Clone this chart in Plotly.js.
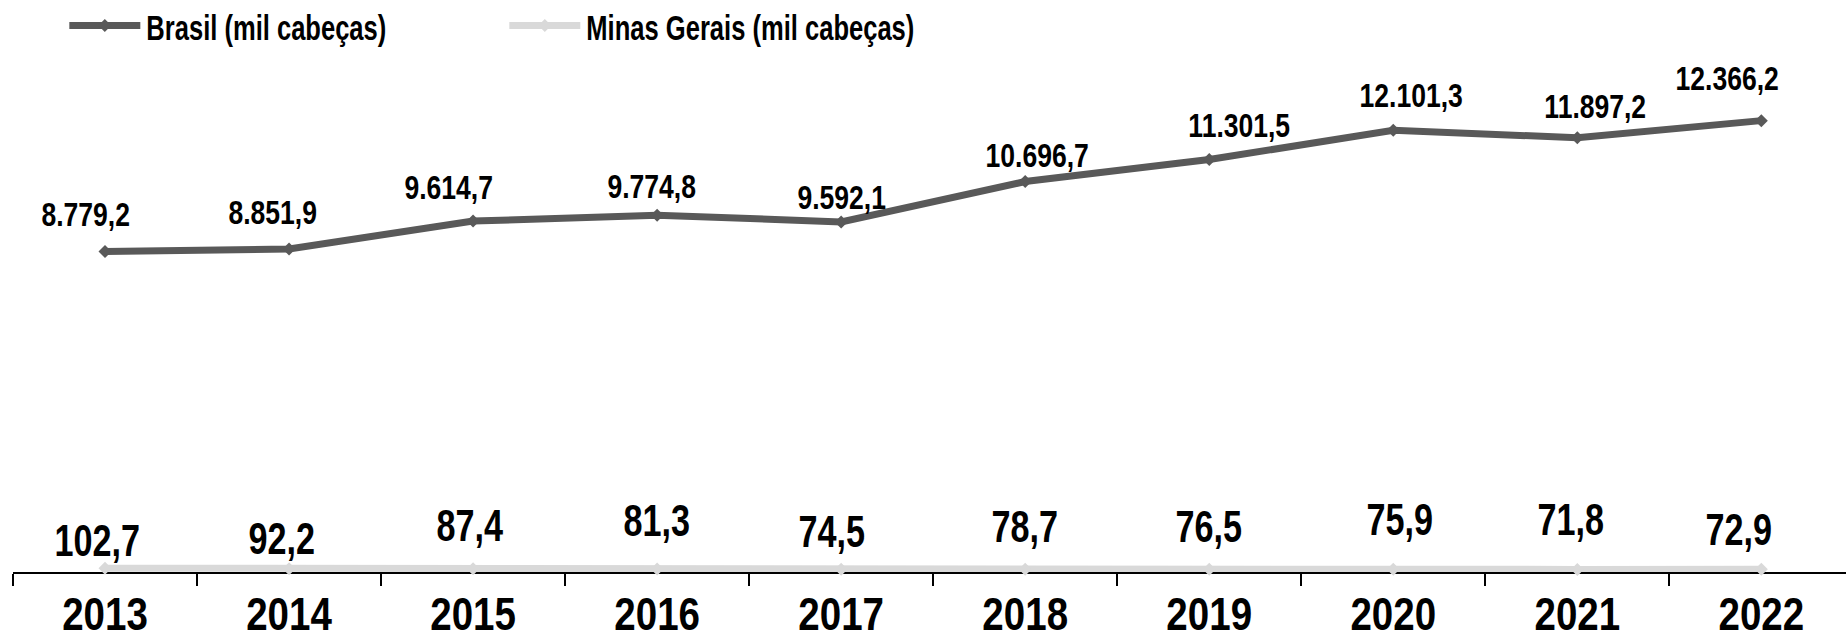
<!DOCTYPE html>
<html>
<head>
<meta charset="utf-8">
<script src="https://cdn.plot.ly/plotly-3.0.1.min.js"></script>
<style>html,body{margin:0;padding:0;background:#fff;}#chart{width:1846px;height:644px;}</style>
</head>
<body>
<div id="chart"></div>
<script>
// ---- data ----
const years = ['2013','2014','2015','2016','2017','2018','2019','2020','2021','2022'];
const brasil = [8779.2, 8851.9, 9614.7, 9774.8, 9592.1, 10696.7, 11301.5, 12101.3, 11897.2, 12366.2];
const minas = [102.7, 92.2, 87.4, 81.3, 74.5, 78.7, 76.5, 75.9, 71.8, 72.9];
const seriesNames = ['Brasil (mil cabeças)', 'Minas Gerais (mil cabeças)'];

// ---- label placement (pixel offsets, style only) ----
const brasilLabelDx = [-20, -17, -25, -6, 0, 12, 30, 18, 18, -34];
const brasilLabelGap = [26, 25, 22, 17, 13, 15, 23, 24, 20, 31];
const minasLabelDx = [-8, -7, -3, 0, -9, 0, 0, 7, -6, -22];
const minasLabelGap = [12, 14, 27, 33, 22, 27, 27, 34, 34, 24];

const FONT = '"Liberation Sans", Arial, sans-serif';
const BR_FS = 34, MG_FS = 45, YEAR_FS = 47, LEG_FS = 36;
// horizontal squeeze factors to emulate a narrow (condensed) bold face
const SQ_BR = 0.78, SQ_MG = 0.76, SQ_YEAR = 0.82, SQ_LEG = 0.71;
const LEGEND_LIFT = 7; // px

const fmt = v => v.toLocaleString('pt-BR', {minimumFractionDigits: 1, maximumFractionDigits: 1});

const traces = [
  {
    x: years, y: brasil, name: seriesNames[0], type: 'scatter', mode: 'lines+markers',
    line: {color: '#595959', width: 7},
    marker: {color: '#595959', size: 10, symbol: 'diamond'},
    cliponaxis: false
  },
  {
    x: years, y: minas, name: seriesNames[1], type: 'scatter', mode: 'lines+markers',
    line: {color: '#d9d9d9', width: 7},
    marker: {color: '#d9d9d9', size: 10, symbol: 'diamond'},
    cliponaxis: false
  }
];

function labels(ys, dx, gap, fs) {
  // x given as category index (position of the year in `years`)
  return ys.map((v, i) => ({
    x: i, y: v, xref: 'x', yref: 'y', text: fmt(v), showarrow: false,
    xanchor: 'center', yanchor: 'bottom',
    xshift: dx[i], yshift: gap[i] - 2 - 0.212 * fs,
    font: {family: FONT, size: fs, color: '#000', weight: 'bold'}
  }));
}

const layout = {
  width: 1846, height: 644,
  margin: {l: 13, r: 0, t: 61, b: 72, autoexpand: false},
  paper_bgcolor: '#fff', plot_bgcolor: '#fff',
  separators: ',.',
  showlegend: true,
  legend: {
    orientation: 'h', xref: 'paper', x: 0.028, yref: 'container', y: 0.996,
    xanchor: 'left', yanchor: 'top',
    font: {family: FONT, size: LEG_FS, color: '#000', weight: 'bold'},
    entrywidth: 395, entrywidthmode: 'pixels', itemwidth: 30
  },
  annotations: labels(brasil, brasilLabelDx, brasilLabelGap, BR_FS)
    .concat(labels(minas, minasLabelDx, minasLabelGap, MG_FS)),
  xaxis: {
    type: 'category', categoryorder: 'array', categoryarray: years,
    range: [-0.5, 9.46],
    showline: true, linecolor: '#000', linewidth: 2,
    ticks: 'outside', tickson: 'boundaries', ticklen: 12, tickwidth: 2, tickcolor: '#000',
    tickfont: {family: FONT, size: YEAR_FS, color: '#000', weight: 'bold'},
    ticklabelstandoff: 0,
    showgrid: false, zeroline: false, layer: 'below traces',
    fixedrange: true, automargin: false
  },
  yaxis: {
    range: [0, 14000], visible: false, showgrid: false, zeroline: false, fixedrange: true
  }
};

function squeeze(el, s) {
  const x = parseFloat(el.getAttribute('x')) || 0;
  const tr = el.getAttribute('transform') || '';
  el.setAttribute('transform', tr + ' translate(' + x + ',0) scale(' + s + ',1) translate(' + (-x) + ',0)');
}

Plotly.newPlot('chart', traces, layout, {displayModeBar: false, staticPlot: true}).then(gd => {
  gd.querySelectorAll('.xtick text').forEach(t => squeeze(t, SQ_YEAR));
  const nBr = brasil.length;
  gd.querySelectorAll('.annotation').forEach(a => {
    const idx = parseInt(a.getAttribute('data-index'), 10);
    const t = a.querySelector('.annotation-text');
    if (t) squeeze(t, idx < nBr ? SQ_BR : SQ_MG);
  });
  // longer legend sample line, like the reference
  gd.querySelectorAll('.legend .traces').forEach(g => {
    g.querySelectorAll('.legendlines path').forEach(p => p.setAttribute('d', 'M5,0h71'));
    g.querySelectorAll('.legendpoints path').forEach(p => p.setAttribute('transform', 'translate(40.5,0)'));
    const t = g.querySelector('.legendtext');
    if (t) { t.setAttribute('x', 82); squeeze(t, SQ_LEG); }
  });
  const leg = gd.querySelector('g.legend');
  if (leg) {
    const tr = leg.getAttribute('transform') || '';
    leg.setAttribute('transform', tr + ' translate(0,' + (-LEGEND_LIFT) + ')');
  }
});
</script>
</body>
</html>
